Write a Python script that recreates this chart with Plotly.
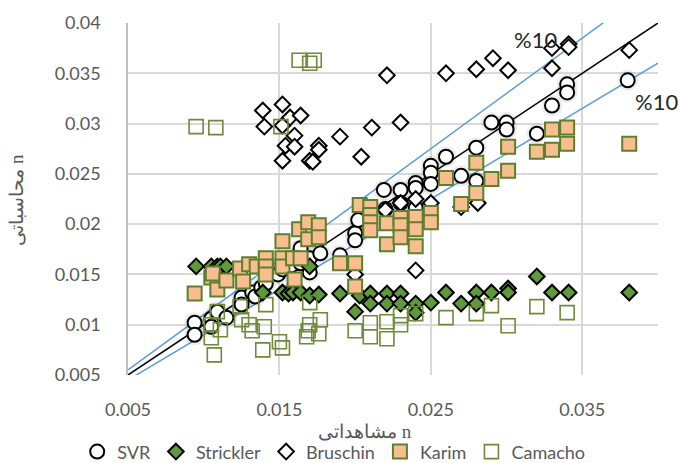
import plotly.graph_objects as go

# ---------------- data ----------------
svr_x = [0.0094,0.0094,0.0105,0.0105,0.0109,0.0115,0.0125,0.0125,0.0132,0.0134,0.0138,0.0141,0.0149,0.0152,0.0158,0.0164,0.0164,0.0170,0.0170,0.0177,0.0190,0.0200,0.0200,0.0202,0.0219,0.0220,0.0230,0.0230,0.0240,0.0240,0.0240,0.0250,0.0250,0.0250,0.0260,0.0270,0.0280,0.0280,0.0290,0.0300,0.0300,0.0320,0.0330,0.0340,0.0340,0.0380]
svr_y = [0.0102,0.0090,0.0106,0.0098,0.0113,0.0107,0.0127,0.0120,0.0132,0.0128,0.0137,0.0141,0.0150,0.0155,0.0159,0.0176,0.0161,0.0166,0.0152,0.0171,0.0169,0.0191,0.0184,0.0204,0.0234,0.0215,0.0234,0.0221,0.0241,0.0236,0.0216,0.0258,0.0251,0.0240,0.0267,0.0248,0.0276,0.0243,0.0301,0.0301,0.0294,0.0290,0.0318,0.0339,0.0331,0.0343]

strickler_x = [0.0095,0.0105,0.0109,0.0111,0.0115,0.0139,0.0152,0.0156,0.0159,0.0164,0.0170,0.0170,0.0176,0.0190,0.0200,0.0203,0.0210,0.0210,0.0221,0.0221,0.0230,0.0230,0.0240,0.0240,0.0250,0.0260,0.0270,0.0280,0.0280,0.0290,0.0301,0.0301,0.0320,0.0330,0.0341,0.0381]
strickler_y = [0.0158,0.0158,0.0158,0.0158,0.0158,0.0132,0.0132,0.0131,0.0132,0.0132,0.0158,0.0129,0.0130,0.0131,0.0113,0.0129,0.0131,0.0121,0.0131,0.0121,0.0131,0.0121,0.0121,0.0112,0.0122,0.0132,0.0121,0.0132,0.0121,0.0132,0.0136,0.0132,0.0148,0.0132,0.0132,0.0132]

bruschin_x = [0.0139,0.0152,0.0140,0.0152,0.0157,0.0164,0.0160,0.0154,0.0160,0.0152,0.0170,0.0172,0.0176,0.0176,0.0190,0.0211,0.0204,0.0230,0.0221,0.0260,0.0280,0.0291,0.0301,0.0330,0.0330,0.0341,0.0341,0.0381,0.0220,0.0230,0.0240,0.0250,0.0270,0.0281,0.0240,0.0200]
bruschin_y = [0.0313,0.0319,0.0297,0.0298,0.0306,0.0308,0.0288,0.0278,0.0277,0.0263,0.0263,0.0262,0.0278,0.0274,0.0287,0.0296,0.0267,0.0301,0.0348,0.0350,0.0354,0.0365,0.0353,0.0355,0.0375,0.0379,0.0376,0.0373,0.0214,0.0221,0.0225,0.0221,0.0217,0.0221,0.0154,0.0150]

karim_x = [0.0094,0.0105,0.0106,0.0109,0.0115,0.0124,0.0126,0.0130,0.0135,0.0141,0.0141,0.0141,0.0152,0.0152,0.0152,0.0159,0.0164,0.0160,0.0163,0.0169,0.0169,0.0176,0.0176,0.0190,0.0200,0.0200,0.0203,0.0210,0.0210,0.0210,0.0210,0.0221,0.0221,0.0230,0.0230,0.0230,0.0240,0.0240,0.0240,0.0250,0.0250,0.0260,0.0270,0.0280,0.0280,0.0290,0.0301,0.0301,0.0320,0.0330,0.0330,0.0340,0.0340,0.0381]
karim_y = [0.0131,0.0147,0.0151,0.0135,0.0144,0.0156,0.0143,0.0160,0.0158,0.0166,0.0158,0.0150,0.0183,0.0166,0.0158,0.0166,0.0166,0.0145,0.0195,0.0202,0.0185,0.0199,0.0187,0.0161,0.0161,0.0138,0.0219,0.0217,0.0209,0.0202,0.0194,0.0201,0.0180,0.0206,0.0199,0.0187,0.0207,0.0195,0.0178,0.0211,0.0202,0.0246,0.0220,0.0261,0.0231,0.0245,0.0253,0.0277,0.0272,0.0294,0.0274,0.0296,0.0280,0.0280]

camacho_x = [0.0095,0.0108,0.0151,0.0163,0.0170,0.0173,0.0105,0.0105,0.0107,0.0109,0.0111,0.0124,0.0125,0.0130,0.0132,0.0140,0.0139,0.0141,0.0150,0.0152,0.0168,0.0169,0.0170,0.0170,0.0176,0.0177,0.0200,0.0210,0.0210,0.0221,0.0221,0.0230,0.0230,0.0240,0.0260,0.0280,0.0290,0.0301,0.0320,0.0340]
camacho_y = [0.0297,0.0296,0.0297,0.0363,0.0360,0.0363,0.0100,0.0087,0.0070,0.0113,0.0095,0.0118,0.0105,0.0100,0.0094,0.0098,0.0075,0.0120,0.0083,0.0077,0.0088,0.0094,0.0100,0.0122,0.0091,0.0105,0.0094,0.0102,0.0088,0.0103,0.0086,0.0109,0.0100,0.0111,0.0107,0.0111,0.0119,0.0099,0.0118,0.0112]

line_x = [0.005, 0.04]
ratio_exact = 1.0
ratio_upper = 1.1
ratio_lower = 0.9

x_tick_vals = [0.005, 0.015, 0.025, 0.035]
x_tick_labels = ["0.005", "0.015", "0.025", "0.035"]
y_tick_vals = [0.005, 0.01, 0.015, 0.02, 0.025, 0.03, 0.035, 0.04]
y_tick_labels = ["0.005", "0.01", "0.015", "0.02", "0.025", "0.03", "0.035", "0.04"]

series_names = ["SVR", "Strickler", "Bruschin", "Karim", "Camacho"]
x_title = "مشاهداتی n"
y_title = "محاسباتی n"
band_label = "%10"

# ---------------- figure ----------------
fig = go.Figure()

blue = "#5B9BD5"
for r, col in [(ratio_upper, blue), (ratio_lower, blue), (ratio_exact, "black")]:
    fig.add_trace(go.Scatter(x=line_x, y=[v * r for v in line_x], mode="lines",
                             line=dict(color=col, width=1.5), showlegend=False,
                             hoverinfo="skip"))

# soft glow under SVR markers
fig.add_trace(go.Scatter(x=svr_x, y=svr_y, mode="markers", showlegend=False,
                         marker=dict(symbol="circle", size=21, color="rgba(0,0,0,0.07)",
                                     line=dict(width=0)), hoverinfo="skip"))

fig.add_trace(go.Scatter(x=svr_x, y=svr_y, mode="markers", name=series_names[0],
                         marker=dict(symbol="circle", size=14, color="white",
                                     line=dict(color="black", width=2))))
fig.add_trace(go.Scatter(x=strickler_x, y=strickler_y, mode="markers", name=series_names[1],
                         marker=dict(symbol="diamond", size=12, color="#5E9A3C",
                                     line=dict(color="black", width=2))))
fig.add_trace(go.Scatter(x=bruschin_x, y=bruschin_y, mode="markers", name=series_names[2],
                         marker=dict(symbol="diamond", size=12, color="white",
                                     line=dict(color="black", width=2))))
fig.add_trace(go.Scatter(x=karim_x, y=karim_y, mode="markers", name=series_names[3],
                         marker=dict(symbol="square", size=14, color="#F8BE8F",
                                     line=dict(color="#5E7F2E", width=2))))
fig.add_trace(go.Scatter(x=camacho_x, y=camacho_y, mode="markers", name=series_names[4],
                         marker=dict(symbol="square", size=14, color="rgba(255,255,255,0)",
                                     line=dict(color="#6E8A3A", width=1.6))))

tick_font = dict(family="Lato, Carlito, Calibri, sans-serif", size=18, color="#595959")
grid = "#D9D9D9"

fig.update_xaxes(range=[0.005, 0.04], tickvals=x_tick_vals, ticktext=x_tick_labels,
                 showgrid=True, gridcolor=grid, gridwidth=1.5, zeroline=False,
                 showline=False, ticks="", tickfont=tick_font, ticklabelstandoff=22,
                 automargin=False)
fig.update_yaxes(range=[0.005, 0.04], tickvals=y_tick_vals, ticktext=y_tick_labels,
                 showgrid=True, gridcolor=grid, gridwidth=1.5, zeroline=False,
                 showline=True, linecolor="#BFBFBF", linewidth=1.5,
                 ticks="", tickfont=tick_font, ticklabelstandoff=22, automargin=False)

title_font = dict(family="Liberation Serif, Times New Roman, serif", size=19, color="#595959")
fig.add_annotation(xref="paper", yref="paper", x=0.447, y=-0.16, text=x_title,
                   showarrow=False, font=title_font, xanchor="center", yanchor="middle")
fig.add_annotation(xref="paper", yref="paper", x=-0.212, y=0.497, text=y_title,
                   showarrow=False, font=title_font, textangle=-90,
                   xanchor="center", yanchor="middle")

lab_font = dict(family="Lato, Carlito, Calibri, sans-serif", size=22, color="#262626")
fig.add_annotation(xref="paper", yref="paper", x=0.768, y=0.952, text=band_label,
                   showarrow=False, font=lab_font, xanchor="center", yanchor="middle")
fig.add_annotation(xref="paper", yref="paper", x=1.042, y=0.778, text=band_label,
                   showarrow=False, font=lab_font, xanchor="right", yanchor="middle")

fig.update_layout(
    width=681, height=463,
    margin=dict(l=128, r=23, t=23, b=88),
    paper_bgcolor="white", plot_bgcolor="white",
    legend=dict(orientation="h", xref="container", yref="container",
                x=0.49, xanchor="center", y=0.024, yanchor="middle",
                font=dict(family="Lato, Carlito, Calibri, sans-serif", size=18, color="#595959"),
                itemwidth=30, tracegroupgap=0, bgcolor="rgba(0,0,0,0)"),
    showlegend=True,
)

fig.write_html("out.html", config={"displayModeBar": False},
               post_script="document.body.style.margin='0';document.body.style.overflow='hidden';")
